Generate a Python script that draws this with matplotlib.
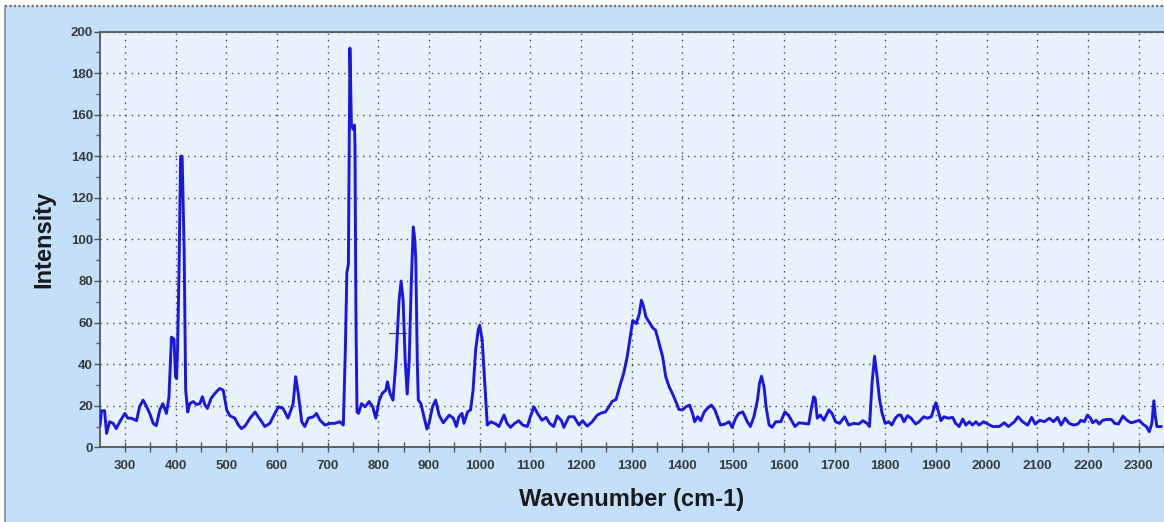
import matplotlib
matplotlib.use("Agg")
import matplotlib.pyplot as plt
from matplotlib.patches import Rectangle
from matplotlib.lines import Line2D
import numpy as np

# spectrum
wavenumber = [251, 254, 260, 264, 270, 277, 283, 290, 300, 306, 313, 323, 329, 336, 343, 349,
              356, 362, 369, 375, 382, 387, 392, 397, 400, 402, 404, 407, 410, 413, 415, 417,
              420, 424, 428, 435, 441, 448, 453, 458, 463, 470, 478, 487, 494, 501, 507, 517,
              524, 530, 537, 547, 557, 563, 570, 576, 586, 596, 603, 612, 622, 632, 637, 642,
              649, 655, 662, 672, 678, 685, 695, 705, 714, 724, 731, 735, 738, 741, 744, 747,
              750, 753, 754, 756, 758, 761, 767, 774, 782, 789, 795, 802, 808, 815, 818, 823,
              829, 835, 841, 845, 849, 853, 857, 861, 865, 869, 872, 874, 877, 879, 884, 890,
              896, 900, 907, 913, 920, 928, 940, 948, 954, 959, 965, 969, 976, 982, 987, 992,
              997, 1000, 1005, 1010, 1015, 1022, 1032, 1038, 1048, 1054, 1061, 1069, 1077, 1085, 1094, 1100,
              1107, 1114, 1123, 1131, 1138, 1146, 1153, 1161, 1166, 1176, 1186, 1196, 1203, 1212, 1222, 1232,
              1241, 1248, 1255, 1261, 1269, 1278, 1284, 1291, 1297, 1302, 1309, 1315, 1319, 1323, 1328, 1334,
              1341, 1347, 1354, 1361, 1367, 1374, 1380, 1387, 1393, 1400, 1407, 1414, 1420, 1424, 1430, 1436,
              1443, 1449, 1457, 1464, 1469, 1475, 1484, 1492, 1498, 1505, 1511, 1519, 1528, 1534, 1541, 1548,
              1552, 1556, 1561, 1565, 1571, 1577, 1584, 1594, 1602, 1609, 1615, 1622, 1630, 1639, 1649, 1655,
              1659, 1662, 1666, 1672, 1679, 1689, 1695, 1702, 1710, 1720, 1728, 1738, 1748, 1756, 1764, 1769,
              1774, 1779, 1784, 1789, 1794, 1800, 1807, 1813, 1820, 1826, 1831, 1837, 1844, 1851, 1860, 1867,
              1876, 1883, 1891, 1897, 1900, 1905, 1910, 1916, 1924, 1933, 1939, 1946, 1953, 1959, 1966, 1972,
              1979, 1985, 1994, 2002, 2012, 2025, 2035, 2043, 2055, 2062, 2071, 2081, 2089, 2096, 2105, 2114,
              2124, 2132, 2140, 2147, 2155, 2163, 2172, 2180, 2186, 2193, 2199, 2205, 2209, 2216, 2222, 2229,
              2238, 2246, 2253, 2260, 2269, 2277, 2285, 2293, 2301, 2308, 2315, 2321, 2326, 2330, 2333, 2336,
              2344]
intensity = [10.5, 17.6, 17.6, 6.7, 12.3, 11.5, 9, 12.3, 16.3, 14, 14, 12.8, 19.5, 22.7, 19.5, 16.3,
             11.5, 10.4, 18, 21, 16.3, 24, 53, 52, 34, 33, 46.7, 87, 140, 140, 118, 95,
             27.5, 17, 21, 22, 20.6, 21, 24.3, 20.3, 18.7, 23.5, 26, 28.3, 27.5, 18, 15.2, 14,
             10.7, 9, 10.2, 14, 17, 14.7, 12.3, 10, 11.5, 16.3, 19.5, 18.7, 14, 21, 34, 26,
             12.3, 10, 14, 14.7, 16.3, 13, 10.7, 11.5, 11.5, 12.3, 10.7, 46.7, 84, 88, 192, 155,
             153, 155, 145, 60, 17, 16.3, 21, 19.5, 22, 19.5, 14, 22.7, 26, 27.5, 31.5, 26,
             22.7, 42, 70.7, 80, 70.7, 42, 25.6, 42, 78.7, 106, 100, 90, 40, 22.7, 21, 14.7,
             8.8, 11.5, 19.5, 22.7, 15.5, 11.8, 15.5, 14, 10, 14.7, 16.3, 11.5, 17, 18, 27.5, 46.7,
             56.3, 58.7, 51.5, 30.7, 10.7, 12.3, 11.2, 10, 15.5, 11.5, 9.6, 11.5, 12.8, 10.7, 10, 14.7,
             19.5, 16.3, 13, 14.4, 11.5, 10, 15, 13, 9.6, 14.7, 14.7, 10.7, 12.8, 10.2, 12.3, 15.5,
             16.6, 17, 19.5, 22, 23, 30.7, 35.5, 43.5, 53, 61, 59.5, 64.3, 70.7, 68, 62.7, 60.3,
             57.6, 56.3, 50, 43.5, 34, 29, 26, 22, 18.2, 18, 19.5, 20.3, 16.3, 12.3, 14.7, 12.8,
             17, 18.7, 20.3, 18, 14.7, 10.7, 11.2, 12.3, 9.6, 14, 16.3, 17, 12.3, 10, 14.7, 22.7,
             30.7, 34.2, 29, 19.5, 10.7, 9.6, 12.3, 12.3, 17, 15.5, 13, 10, 11.8, 11.5, 11.2, 19.5,
             24.3, 23.5, 14, 15.5, 13, 18, 16.3, 12.3, 11.5, 14.7, 10.7, 11.5, 11.2, 12.8, 11.5, 10,
             30.7, 43.8, 34, 22.7, 16.3, 11.5, 12.3, 10.7, 14, 15.5, 15.5, 12.3, 15.2, 14, 11.2, 12.3,
             14.7, 14, 14.7, 19.5, 21.4, 17, 12.8, 14.7, 14, 14.4, 11.5, 10, 13.6, 10.7, 12.3, 10.7,
             12.3, 10.7, 12.3, 11.2, 10, 10, 11.8, 10, 12.3, 14.7, 12.3, 10.7, 14.4, 11.2, 13, 12.3,
             14, 12.3, 14.4, 10.7, 14, 11.5, 10.7, 11.2, 13, 12.3, 15.5, 14, 11.8, 13, 11.2, 13,
             13.4, 13.4, 11.5, 11.2, 15, 13, 11.8, 12.3, 13, 11.2, 10, 7.5, 11.5, 22.4, 14.7, 10,
             10]

# small cursor mark left on the plot
cursor_x = [822, 854]
cursor_y = [55, 55]

x_ticks = np.arange(300, 2301, 100)
y_ticks = np.arange(0, 201, 20)

plt.rcParams['font.family'] = ['Liberation Sans', 'DejaVu Sans']

fig = plt.figure(figsize=(11.64, 5.22), dpi=100, facecolor='white')
W, H = 1164, 522

# light blue panel with gray frame
panel = Rectangle((5 / W, 0), 1 - 5 / W, 1 - 6 / H, transform=fig.transFigure,
                  facecolor='#c3dff9', edgecolor='none', zorder=-5)
fig.patches.append(panel)
fig.lines.append(Line2D([5 / W, 5 / W], [0, 1 - 6 / H], transform=fig.transFigure,
                        color='#8a8a8a', lw=1.2, zorder=-4))
fig.lines.append(Line2D([5 / W, 1], [1 - 6 / H, 1 - 6 / H], transform=fig.transFigure,
                        color='#707070', lw=1.6, linestyle=(0, (1, 1)), zorder=-4))

ax = fig.add_axes([100 / W, 74.7 / H, 1 - 100 / W, (447.3 - 31.5) / H])
ax.set_facecolor('#e7f2fd')

ax.plot(wavenumber, intensity, color='#1818e0', lw=2.1, zorder=3)
ax.plot(cursor_x, cursor_y, color='#404040', lw=0.8, zorder=2)

ax.set_xlim(251, 2350)
ax.set_ylim(0, 200)
ax.set_xticks(x_ticks)
ax.set_xticks(np.arange(350, 2351, 100), minor=True)
ax.set_yticks(y_ticks)
ax.set_yticks(np.arange(10, 200, 20), minor=True)

ax.grid(True, which='major', color='#444444', linestyle=(0, (1, 3.5)), lw=1.0)
ax.set_axisbelow(True)

for side in ['left', 'bottom', 'top']:
    ax.spines[side].set_color('#555555')
    ax.spines[side].set_linewidth(1.3)
ax.spines['right'].set_visible(False)

ax.tick_params(axis='y', which='major', direction='out', length=4, width=1, color='#555555',
               labelsize=9.5, labelcolor='#3a3a3a', pad=1)
ax.tick_params(axis='y', which='minor', direction='out', length=3, width=1, color='#555555')
ax.tick_params(axis='x', which='both', direction='inout', length=7, width=1, color='#555555',
               labelsize=9.5, labelcolor='#3a3a3a', pad=6)
for lab in ax.get_xticklabels() + ax.get_yticklabels():
    lab.set_fontweight('bold')

ax.set_xlabel('Wavenumber (cm-1)', fontsize=17, fontweight='bold', color='#1a1a1a', labelpad=11)
ax.set_ylabel('Intensity', fontsize=17, fontweight='bold', color='#1a1a1a', labelpad=11)

fig.savefig('out.png', dpi=100, facecolor=fig.get_facecolor())
